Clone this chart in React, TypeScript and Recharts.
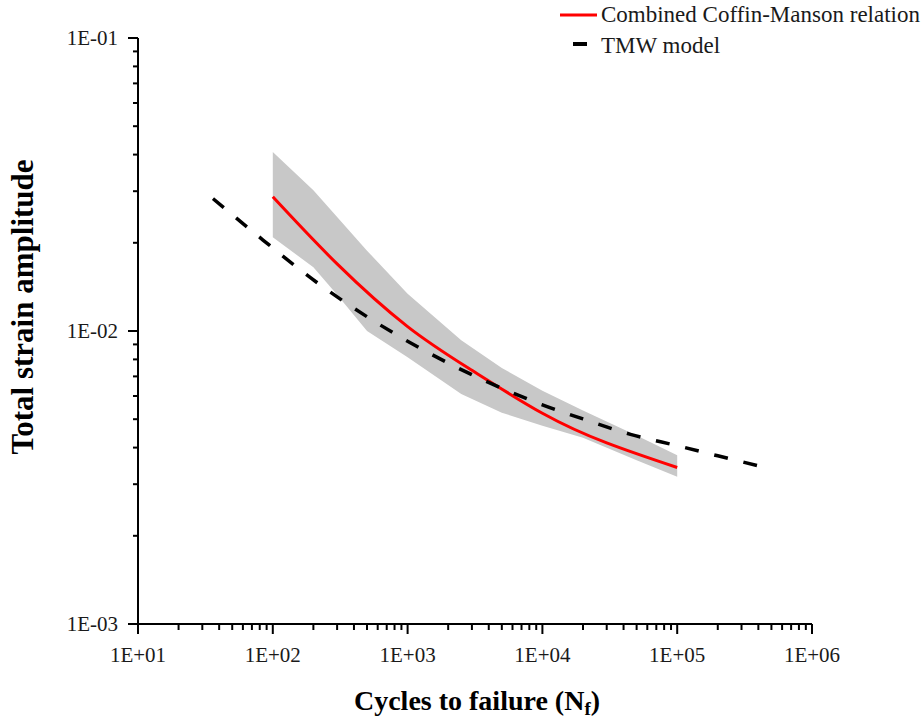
import { ComposedChart, Area, Line, XAxis, YAxis } from "recharts";

const FONT = "'Liberation Serif', 'Times New Roman', Times, serif";

// axis ticks (log decades)
const xMajor = [10, 100, 1000, 10000, 100000, 1000000];
const xLabels = ["1E+01", "1E+02", "1E+03", "1E+04", "1E+05", "1E+06"];
const yMajor = [0.001, 0.01, 0.1];
const yLabels = ["1E-03", "1E-02", "1E-01"];

// Combined Coffin-Manson relation (red)
const cmCycles = [100, 300, 1000, 3000, 10000, 30000, 100000];
const cmStrain = [0.0287, 0.01694, 0.01035, 0.00734, 0.00524, 0.00415, 0.00342];

// TMW model (dashed)
const tmwCycles = [36, 85, 210, 530, 1400, 3700, 10000, 20000, 45000, 100000, 200000, 450000];
const tmwStrain = [0.0283, 0.0204, 0.0147, 0.011, 0.00847, 0.00678, 0.0056, 0.00501, 0.00444, 0.00406, 0.00375, 0.00342];

// scatter band (grey)
const bandCycles = [100, 200, 300, 500, 1000, 2500, 5000, 10000, 20000, 50000, 100000];
const bandLow = [0.0209, 0.0165, 0.0133, 0.01, 0.00813, 0.0061, 0.00526, 0.00475, 0.00432, 0.00362, 0.00318];
const bandHigh = [0.0408, 0.0302, 0.0245, 0.0188, 0.0134, 0.0093, 0.00748, 0.00625, 0.00535, 0.0044, 0.00377];

const cmData = cmCycles.map((n, i) => ({ n, v: cmStrain[i] }));
const tmwData = tmwCycles.map((n, i) => ({ n, v: tmwStrain[i] }));
const bandData = bandCycles.map((n, i) => ({ n, range: [bandLow[i], bandHigh[i]] }));

// minor ticks 2..9 inside every decade
const withMinor = (majors: number[]) => {
  const out: number[] = [];
  majors.forEach((m, i) => {
    out.push(m);
    if (i < majors.length - 1) for (let k = 2; k <= 9; k++) out.push(m * k);
  });
  return out;
};
const xTicks = withMinor(xMajor);
const yTicks = withMinor(yMajor);

const majorIndex = (majors: number[], v: number) =>
  majors.findIndex((m) => Math.abs(v / m - 1) < 1e-6);

function XTick({ x, y, payload }: any) {
  const i = majorIndex(xMajor, payload.value);
  return (
    <g>
      <line x1={x} x2={x} y1={y} y2={y + (i >= 0 ? 10 : 6)} stroke="#000" strokeWidth={2} />
      {i >= 0 && (
        <text x={x} y={y + 38} textAnchor="middle" fontFamily={FONT} fontSize={21} fill="#1a1a1a">
          {xLabels[i]}
        </text>
      )}
    </g>
  );
}

function YTick({ x, y, payload }: any) {
  const i = majorIndex(yMajor, payload.value);
  return (
    <g>
      <line x1={x} x2={x - (i >= 0 ? 10 : 5)} y1={y} y2={y} stroke="#000" strokeWidth={2} />
      {i >= 0 && (
        <text x={x - 20} y={y} dy="0.35em" textAnchor="end" fontFamily={FONT} fontSize={21} fill="#1a1a1a">
          {yLabels[i]}
        </text>
      )}
    </g>
  );
}

function Legend() {
  return (
    <svg width={924} height={70} style={{ position: "absolute", left: 0, top: 0, pointerEvents: "none" }}>
      <line x1={560} x2={597} y1={15} y2={15} stroke="#ff0000" strokeWidth={3} />
      <text x={601} y={22} fontFamily={FONT} fontSize={23} fill="#1a1a1a">
        Combined Coffin-Manson relation
      </text>
      <line x1={573} x2={587} y1={44} y2={44} stroke="#000" strokeWidth={4} />
      <text x={601} y={53} fontFamily={FONT} fontSize={23} fill="#1a1a1a">
        TMW model
      </text>
    </svg>
  );
}

export default function App() {
  return (
    <div style={{ position: "absolute", left: 0, top: 0, width: 924, height: 720, background: "#fff" }}>
      <ComposedChart width={924} height={720} margin={{ top: 38, right: 112, bottom: 0, left: 0 }}>
        <XAxis
          type="number"
          dataKey="n"
          scale="log"
          domain={[10, 1000000]}
          allowDataOverflow
          ticks={xTicks}
          interval={0}
          tick={<XTick />}
          tickLine={false}
          tickSize={0}
          tickMargin={0}
          axisLine={{ stroke: "#000", strokeWidth: 2 }}
          height={96}
          label={{
            content: () => (
              <text x={477} y={710} textAnchor="middle" fontFamily={FONT} fontWeight="bold" fontSize={28} fill="#000">
                Cycles to failure (N
                <tspan fontSize={19} dy={5}>f</tspan>
                <tspan dy={-5}>)</tspan>
              </text>
            ),
          }}
        />
        <YAxis
          type="number"
          scale="log"
          domain={[0.001, 0.1]}
          allowDataOverflow
          ticks={yTicks}
          interval={0}
          tick={<YTick />}
          tickLine={false}
          tickSize={0}
          tickMargin={0}
          axisLine={{ stroke: "#000", strokeWidth: 2 }}
          width={138}
          label={{
            content: () => (
              <text
                transform="translate(33,307) rotate(-90)"
                textAnchor="middle"
                fontFamily={FONT}
                fontWeight="bold"
                fontSize={31}
                fill="#000"
              >
                Total strain amplitude
              </text>
            ),
          }}
        />
        <Area
          data={bandData}
          dataKey="range"
          type="linear"
          stroke="none"
          fill="#c8c8c8"
          fillOpacity={1}
          isAnimationActive={false}
        />
        <Line
          data={cmData}
          dataKey="v"
          type="natural"
          stroke="#ff0000"
          strokeWidth={3}
          dot={false}
          isAnimationActive={false}
        />
        <Line
          data={tmwData}
          dataKey="v"
          type="monotone"
          stroke="#000"
          strokeWidth={3.5}
          strokeDasharray="14 16"
          dot={false}
          isAnimationActive={false}
        />
      </ComposedChart>
      <Legend />
    </div>
  );
}
